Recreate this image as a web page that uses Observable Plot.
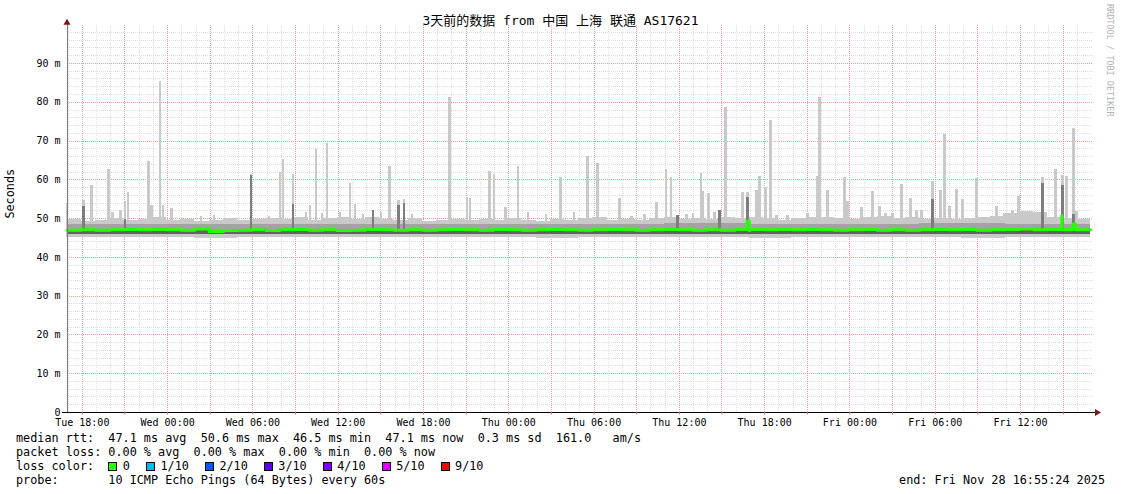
<!DOCTYPE html>
<html><head><meta charset="utf-8">
<script src="https://cdn.jsdelivr.net/npm/d3@7"></script>
<script src="https://cdn.jsdelivr.net/npm/@observablehq/plot@0.6"></script>
<style>
body{margin:0;background:#fff;}
#wrap{position:relative;width:1121px;height:494px;overflow:hidden;font-family:"DejaVu Sans Mono","Noto Sans CJK SC",monospace;color:#000;background:#fff;}
#chart{position:absolute;left:0;top:0;}
.title{position:absolute;left:0;width:1121px;top:13px;text-align:center;font-size:13px;line-height:16px;white-space:pre;}
.legend{position:absolute;left:16px;top:431px;font-size:11.8px;white-space:pre;}
.row{height:14px;display:flex;align-items:center;}
.box{width:9px;height:9px;box-sizing:border-box;border:1px solid #000;margin-right:5.5px;}
.item{display:flex;align-items:center;margin-right:16px;}
.end{position:absolute;right:16px;top:473px;font-size:11.8px;line-height:14px;white-space:pre;}
.credit{position:absolute;left:1104px;top:4px;font-size:8.5px;line-height:12px;color:#b4b4b4;writing-mode:vertical-rl;white-space:pre;}
</style></head>
<body><div id="wrap"><div id="chart"></div></div>
<script>
// ---- data ----
const titleText = "3天前的数据 from 中国 上海 联通 AS17621";
const yLabel = "Seconds";
const creditText = "RRDTOOL / TOBI OETIKER";
const legendRtt = "median rtt:  47.1 ms avg  50.6 ms max  46.5 ms min  47.1 ms now  0.3 ms sd  161.0   am/s";
const legendLoss = "packet loss: 0.00 % avg  0.00 % max  0.00 % min  0.00 % now";
const lossTitle = "loss color:  ";
const lossLabels = ["0", "1/10", "2/10", "3/10", "4/10", "5/10", "9/10"];
const lossColors = ["#26ff00", "#00b8ff", "#0059ff", "#5e00ff", "#7e00ff", "#dd00ff", "#ff0000"];
const probeText = "probe:       10 ICMP Echo Pings (64 Bytes) every 60s";
const endText = "end: Fri Nov 28 16:55:24 2025";
const endTime = Date.UTC(2025, 10, 28, 16, 55, 24);
const spanHours = 72;

// hourly top of the light smoke (ms), 72 hours
const baseTop = [49.8,49.2,49.6,50.0,49.4,49.8,50.2,49.6,49.8,49.3,
                 49.6,49.9,49.4,49.7,50.1,49.8,50.3,49.5,49.9,50.2,
                 49.7,50.4,49.8,49.6,49.9,49.3,49.6,49.8,49.4,49.7,
                 49.5,49.9,49.6,49.3,49.8,49.5,49.9,50.2,49.6,49.8,
                 49.5,49.9,50.3,49.7,50.1,49.8,50.2,49.9,50.4,50.0,
                 49.6,49.9,50.2,50.4,50.1,49.8,50.3,50.5,49.9,50.2,
                 49.8,50.1,49.7,49.9,50.3,50.6,51.2,51.8,51.5,50.4,
                 50.0,49.7];
// hourly median rtt (ms)
const medianMs = [47.0,47.1,47.0,47.1,47.2,47.1,47.2,47.1,47.0,47.3,
                  46.7,46.9,47.0,47.1,46.9,47.1,47.2,47.0,47.1,46.9,
                  47.0,47.2,47.1,47.0,47.1,47.0,47.1,47.2,47.1,47.0,
                  47.2,47.1,47.0,47.1,47.2,47.1,47.0,47.1,47.2,47.1,
                  47.0,47.1,47.2,47.1,47.0,47.1,47.0,47.2,46.9,47.1,
                  47.2,47.1,47.2,47.1,47.0,47.1,47.2,47.0,47.1,47.0,
                  47.1,47.2,47.1,47.2,47.0,47.1,47.2,47.3,47.1,47.2,
                  47.1,47.1];
// lowest ping per 3 hours (ms)
const lowEdge = [45.1,45.0,45.2,44.9,45.1,45.0,45.2,45.1,45.0,45.2,45.1,44.9,
                 45.0,45.1,45.2,45.0,44.9,45.1,45.0,45.2,45.1,44.9,45.0,45.1];
// inner smoke bands per 6 hours (ms)
const midHi = [48.5,48.6,48.4,48.5,48.6,48.4,48.5,48.7,48.6,48.5,48.8,48.6];
const darkLo = [45.9,46.0,45.9,45.9,46.0,45.9,45.9,46.0,45.9,45.9,46.0,45.9];
// spikes of the highest ping: [hours after start, ms]
const lightSpikes = [[0.04,54.0],[1.17,54.7],[1.73,58.5],[2.93,62.7],[3.21,51.6],[3.77,52.0],[4.12,54.4],[4.33,56.7],
  [5.74,64.7],[5.95,53.4],[6.58,85.3],[6.79,53.5],[7.36,52.7],[8.12,50.0],[9.46,50.5],[10.38,50.9],[12.98,61.4],
  [14.24,50.5],[15.02,62.0],[15.23,65.2],[15.93,61.4],[16.85,51.6],[17.13,53.4],[17.55,67.8],[17.97,51.3],[18.33,69.4],
  [19.24,51.6],[19.94,59.0],[20.29,53.6],[20.86,51.0],[21.56,52.0],[22.12,51.6],[22.75,63.4],[23.38,54.7],[23.74,55.0],
  [24.30,51.0],[26.97,81.2],[28.17,55.4],[28.38,55.2],[29.78,62.1],[30.07,61.4],[30.91,52.9],[31.76,63.4],[32.46,51.6],
  [33.73,51.0],[34.78,60.6],[35.70,51.6],[36.68,66.0],[37.38,64.2],[38.93,55.2],[39.77,50.5],[40.69,51.0],[41.53,54.2],
  [42.17,62.7],[42.52,60.6],[43.01,50.8],[43.64,51.0],[44.07,51.3],[44.63,61.6],[44.77,57.0],[45.19,56.5],[45.61,51.6],
  [45.96,52.0],[46.38,78.6],[47.58,56.7],[47.93,56.7],[48.56,57.2],[48.78,60.9],[49.19,58.0],[49.55,75.3],[49.97,50.8],
  [50.74,50.8],[52.15,51.3],[52.85,60.9],[52.99,81.2],[53.56,57.2],[54.75,60.6],[54.96,54.4],[55.95,52.9],[56.72,57.0],
  [57.22,53.0],[57.64,51.3],[58.13,51.3],[58.76,58.8],[59.40,55.2],[59.82,52.0],[60.17,52.0],[60.94,59.6],[61.50,57.2],
  [61.78,71.7],[62.13,53.0],[62.62,57.5],[63.05,55.0],[64.03,60.3],[65.44,53.1],[66.00,51.3],[66.57,52.0],[66.99,55.7],
  [67.41,51.3],[68.68,60.6],[69.59,62.7],[70.08,61.1],[70.36,60.9],[70.85,73.2],[71.06,51.8]];
// columns where several pings were high: [hours after start, ms]
const darkSpikes = [[1.17,53.1],[4.12,49.8],[12.98,61.0],[15.93,53.6],[21.56,52.0],[23.38,53.5],[23.74,54.0],
  [43.01,50.8],[45.96,52.0],[47.93,55.5],[60.94,55.0],[68.68,59.0],[70.08,58.5],[70.85,51.0]];
// short median excursions: [hours after start, ms]
const medianPeaks = [[47.93,49.3],[70.08,50.7],[70.85,48.6]];
const yTicks = [0,10,20,30,40,50,60,70,80,90];

// ---- build ----
const H = 3600e3;
const startTime = endTime - spanHours * H;
const at = h => new Date(startTime + h * H);
const start = at(0), end = at(spanHours);
const spikeW = 0.2; // column width in hours

const hours = d3.range(spanHours).map(i => ({
  t1: at(i), t2: at(i + 1), top: baseTop[i], med: medianMs[i],
  low: lowEdge[Math.floor(i / 3)], midHi: midHi[Math.floor(i / 6)], darkLo: darkLo[Math.floor(i / 6)]
}));
const lowAt = h => lowEdge[Math.min(23, Math.floor(h / 3))];
const medAt = h => medianMs[Math.min(71, Math.floor(h))];

let medRows = hours.map((d, i) => ({t: at(i), v: d.med}));
medRows.push({t: end, v: medianMs[71]});
for (const [h, v] of medianPeaks) {
  medRows.push({t: at(h - spikeW / 2), v});
  medRows.push({t: at(h + spikeW / 2), v: medAt(h)});
}
medRows.sort((a, b) => a.t - b.t);

const gridHours = d3.utcHour.range(start, end);
const minorX = gridHours.filter(d => d.getUTCHours() % 3 !== 0);
const majorX = gridHours.filter(d => d.getUTCHours() % 3 === 0);
const minorY = d3.range(2, 100, 2).filter(v => v % 10 !== 0);
const majorY = d3.range(10, 100, 10);
const labelTicks = d3.utcHour.every(6).range(start, end);
const gridEnd = at(spanHours + 0.2);
const col = {shapeRendering: "crispEdges"};
const minorStroke = "#dddddd", majorStroke = "#f2a0a0";

const plot = Plot.plot({
  width: 1121, height: 494,
  marginLeft: 66.5, marginRight: 31, marginTop: 24.2, marginBottom: 82,
  style: {fontFamily: '"DejaVu Sans Mono", monospace', fontSize: "10px", background: "transparent", color: "#000", overflow: "visible"},
  x: {type: "utc", domain: [start, end]},
  y: {domain: [0, 100]},
  marks: [
    Plot.ruleY(minorY, {x1: () => start, x2: () => gridEnd, stroke: minorStroke, strokeDasharray: "1,1", ...col}),
    Plot.ruleX(minorX, {y1: 0, y2: 100, stroke: minorStroke, strokeDasharray: "1,1", ...col}),
    Plot.ruleY(majorY, {x1: () => start, x2: () => gridEnd, stroke: majorStroke, strokeDasharray: "1,1", ...col}),
    Plot.ruleX(majorX, {y1: 0, y2: 100, stroke: majorStroke, strokeDasharray: "1,1", ...col}),
    // light smoke
    Plot.rect(hours, {x1: "t1", x2: "t2", y1: "low", y2: "top", fill: "#c9c9c9", ...col}),
    Plot.rect(lightSpikes, {x1: d => at(d[0] - spikeW / 2), x2: d => at(d[0] + spikeW / 2), y1: d => lowAt(d[0]), y2: d => d[1], fill: "#c9c9c9", ...col}),
    // medium smoke
    Plot.rect(hours, {x1: "t1", x2: "t2", y1: "darkLo", y2: "midHi", fill: "#a3a3a3", ...col}),
    Plot.rect(darkSpikes, {x1: d => at(d[0] - spikeW / 2), x2: d => at(d[0] + spikeW / 2), y1: d => medAt(d[0]), y2: d => d[1], fill: "#7d7d7d", ...col}),
    // dark smoke
    Plot.rect(hours, {x1: "t1", x2: "t2", y1: "darkLo", y2: "med", fill: "#626262", ...col}),
    // median
    Plot.line(medRows, {x: "t", y: "v", curve: "step-after", stroke: lossColors[0], strokeWidth: 3}),
    // axes lines
    Plot.ruleX([start], {y1: 0, y2: 100.5, stroke: "#7a7a7a", ...col}),
    Plot.ruleY([0], {x1: () => at(-0.3), x2: () => at(spanHours + 0.4), stroke: "#000", ...col}),
    Plot.dot([0], {frameAnchor: "top-left", symbol: "triangle", r: 2.6, fill: "#7f1414", dy: -2}),
    Plot.dot([0], {frameAnchor: "bottom-right", symbol: "triangle", r: 2.6, fill: "#7f1414", rotate: 90, dx: 6.5}),
    Plot.axisX({ticks: majorX, tickSize: 2.5, stroke: "#e07070", tickFormat: () => "", label: null}),
    Plot.axisX({ticks: labelTicks, tickSize: 0, tickPadding: 6.5, tickFormat: d3.utcFormat("%a %H:%M"), label: null, fontSize: 10}),
    Plot.axisY({ticks: yTicks, tickSize: 0, tickPadding: 6.5, tickFormat: d => d === 0 ? "0" : d + " m", label: null, fontSize: 10}),
    Plot.text([yLabel], {frameAnchor: "left", rotate: -90, dx: -56.5, fontSize: 11.8})
  ]
});
const wrap = document.getElementById("wrap");
document.getElementById("chart").appendChild(plot);

const t = document.createElement("div"); t.className = "title"; t.textContent = titleText; wrap.appendChild(t);
const c = document.createElement("div"); c.className = "credit"; c.textContent = creditText; wrap.appendChild(c);
const lg = document.createElement("div"); lg.className = "legend"; wrap.appendChild(lg);
const addRow = txt => { const r = document.createElement("div"); r.className = "row"; r.textContent = txt; lg.appendChild(r); return r; };
addRow(legendRtt);
addRow(legendLoss);
const lr = addRow("");
const ls = document.createElement("span"); ls.textContent = lossTitle; lr.appendChild(ls);
lossLabels.forEach((lab, i) => {
  const it = document.createElement("span"); it.className = "item";
  const b = document.createElement("span"); b.className = "box"; b.style.background = lossColors[i];
  const s = document.createElement("span"); s.textContent = lab;
  it.appendChild(b); it.appendChild(s); lr.appendChild(it);
});
addRow(probeText);
const e = document.createElement("div"); e.className = "end"; e.textContent = endText; wrap.appendChild(e);
</script></body></html>
